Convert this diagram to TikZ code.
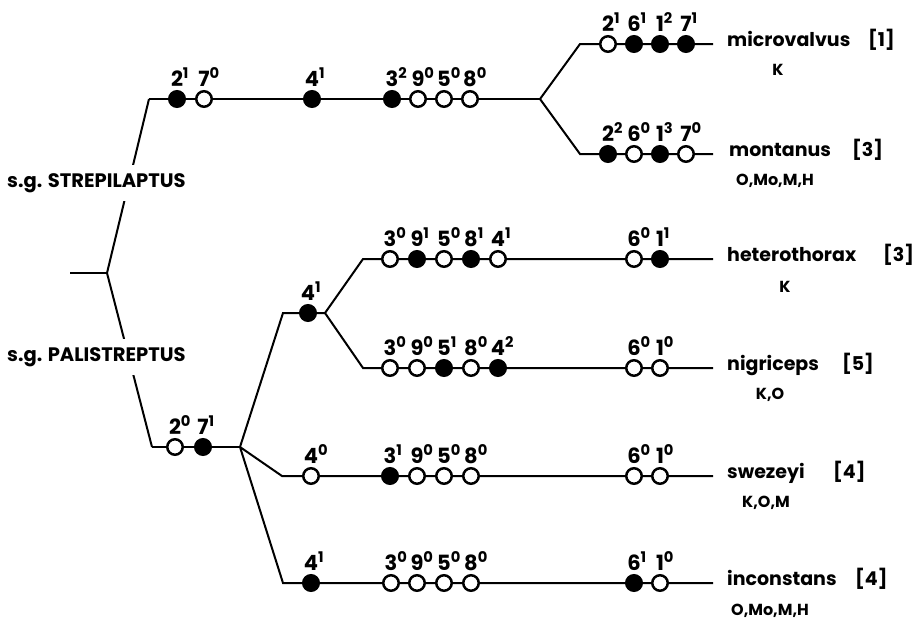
\documentclass[tikz,border=0pt]{standalone}
\usepackage{fontspec}
\setmainfont{Poppins}
\newcommand\dg[2]{#1\rlap{\textsuperscript{#2}}}
\begin{document}
\begin{tikzpicture}[x=1pt,y=-1pt,
  br/.style={line width=2pt},
  dot/.style={circle, draw, line width=2.5pt, minimum size=15.5pt, inner sep=0pt},
  on/.style={dot, fill=black},
  off/.style={dot, fill=white},
  lab/.style={font=\fontsize{21}{21}\selectfont\bfseries, inner sep=0pt},
  every label/.style={lab},
  label distance=3.5pt,
  sp/.style={font=\fontsize{19}{19}\selectfont\bfseries, inner sep=0pt, anchor=mid west},
  loc/.style={font=\fontsize{16}{16}\selectfont\bfseries, inner sep=0pt},
  sg/.style={font=\fontsize{19.5}{19.5}\selectfont\bfseries, fill=white, inner xsep=0pt, inner ysep=8pt, anchor=west}]
\useasboundingbox (0,0) rectangle (924,622);
% branch coordinates
\coordinate (root0) at (70,273);
\coordinate (root) at (107,273);
\coordinate (sA) at (149,99);
\coordinate (sAe) at (540,99);
\coordinate (a1) at (580,44);  \coordinate (a1e) at (713,44);
\coordinate (b1) at (580,154); \coordinate (b1e) at (713,154);
\coordinate (sB) at (152,447); \coordinate (jB) at (240,447);
\coordinate (c0) at (283,313); \coordinate (cj) at (325,313);
\coordinate (c1) at (363,259); \coordinate (c1e) at (713,259);
\coordinate (d1) at (363,368); \coordinate (d1e) at (713,368);
\coordinate (e1) at (282,476); \coordinate (e1e) at (713,476);
\coordinate (f1) at (283,583); \coordinate (f1e) at (713,583);
% branches
\draw[br] (root0) -- (root);
\draw[br] (sA) -- (root) -- (sB);
\draw[br] (sA) -- (sAe);
\draw[br] (a1e) -- (a1) -- (sAe) -- (b1) -- (b1e);
\draw[br] (sB) -- (jB);
\draw[br] (jB) -- (c0) -- (cj);
\draw[br] (c1e) -- (c1) -- (cj) -- (d1) -- (d1e);
\draw[br] (jB) -- (e1) -- (e1e);
\draw[br] (jB) -- (f1) -- (f1e);
% subgenus labels
\node[sg] (sgS) at (7,183) {s.g. STREPILAPTUS};
\node[sg] (sgP) at (7,357) {s.g. PALISTREPTUS};
% STREPILAPTUS stem
\node[on,  label=above:{\dg{2}{1}}] (t1) at (177,99) {};
\node[off, label=above:{\dg{7}{0}}] (t2) at (204,99) {};
\node[on,  label=above:{\dg{4}{1}}] (t3) at (312,99) {};
\node[on,  label=above:{\dg{3}{2}}] (t4) at (392,99) {};
\node[off, label=above:{\dg{9}{0}}] (t5) at (418,99) {};
\node[off, label=above:{\dg{5}{0}}] (t6) at (444,99) {};
\node[off, label=above:{\dg{8}{0}}] (t7) at (470,99) {};
% microvalvus
\node[off, label=above:{\dg{2}{1}}] (a2) at (608,44) {};
\node[on,  label=above:{\dg{6}{1}}] (a6) at (634,44) {};
\node[on,  label=above:{\dg{1}{2}}] (a1c) at (660,44) {};
\node[on,  label=above:{\dg{7}{1}}] (a7) at (686,44) {};
% montanus
\node[on,  label=above:{\dg{2}{2}}] (b2) at (608,154) {};
\node[off, label=above:{\dg{6}{0}}] (b6) at (634,154) {};
\node[on,  label=above:{\dg{1}{3}}] (b1c) at (660,154) {};
\node[off, label=above:{\dg{7}{0}}] (b7) at (686,154) {};
% PALISTREPTUS stem
\node[off, label=above:{\dg{2}{0}}] (p2) at (175,447) {};
\node[on,  label=above:{\dg{7}{1}}] (p7) at (203,447) {};
\node[on,  label=above:{\dg{4}{1}}] (c4) at (308,313) {};
% heterothorax
\node[off, label=above:{\dg{3}{0}}] (c3) at (390,259) {};
\node[on,  label=above:{\dg{9}{1}}] (c9) at (417,259) {};
\node[off, label=above:{\dg{5}{0}}] (c5) at (444,259) {};
\node[on,  label=above:{\dg{8}{1}}] (c8) at (471,259) {};
\node[off, label=above:{\dg{4}{1}}] (c4b) at (498,259) {};
\node[off, label=above:{\dg{6}{0}}] (c6) at (634,259) {};
\node[on,  label=above:{\dg{1}{1}}] (c1c) at (660,259) {};
% nigriceps
\node[off, label=above:{\dg{3}{0}}] (d3) at (390,368) {};
\node[off, label=above:{\dg{9}{0}}] (d9) at (417,368) {};
\node[on,  label=above:{\dg{5}{1}}] (d5) at (444,368) {};
\node[off, label=above:{\dg{8}{0}}] (d8) at (471,368) {};
\node[on,  label=above:{\dg{4}{2}}] (d4) at (498,368) {};
\node[off, label=above:{\dg{6}{0}}] (d6) at (634,368) {};
\node[off, label=above:{\dg{1}{0}}] (d1c) at (660,368) {};
% swezeyi
\node[off, label=above:{\dg{4}{0}}] (e4) at (311,476) {};
\node[on,  label=above:{\dg{3}{1}}] (e3) at (390,476) {};
\node[off, label=above:{\dg{9}{0}}] (e9) at (417,476) {};
\node[off, label=above:{\dg{5}{0}}] (e5) at (444,476) {};
\node[off, label=above:{\dg{8}{0}}] (e8) at (471,476) {};
\node[off, label=above:{\dg{6}{0}}] (e6) at (634,476) {};
\node[off, label=above:{\dg{1}{0}}] (e1c) at (660,476) {};
% inconstans
\node[on,  label=above:{\dg{4}{1}}] (f4) at (311,583) {};
\node[off, label=above:{\dg{3}{0}}] (f3) at (391,583) {};
\node[off, label=above:{\dg{9}{0}}] (f9) at (417,583) {};
\node[off, label=above:{\dg{5}{0}}] (f5) at (444,583) {};
\node[off, label=above:{\dg{8}{0}}] (f8) at (471,583) {};
\node[on,  label=above:{\dg{6}{1}}] (f6) at (634,583) {};
\node[off, label=above:{\dg{1}{0}}] (f1c) at (660,583) {};
% species names
\node[sp] (nA) at (727,44) {microvalvus};   \node[sp] (kA) at (868,44) {[1]};
\node[loc] (lA) at (778,70) {K};
\node[sp] (nB) at (729,154) {montanus};     \node[sp] (kB) at (852,154) {[3]};
\node[loc] (lB) at (775,181) {O,Mo,M,H};
\node[sp] (nC) at (727,259) {heterothorax}; \node[sp] (kC) at (883,259) {[3]};
\node[loc] (lC) at (785,287) {K};
\node[sp] (nD) at (727,368) {nigriceps};    \node[sp] (kD) at (842,368) {[5]};
\node[loc] (lD) at (770,395) {K,O};
\node[sp] (nE) at (727,476) {swezeyi};      \node[sp] (kE) at (833,476) {[4]};
\node[loc] (lE) at (766,503) {K,O,M};
\node[sp] (nF) at (727,583) {inconstans};   \node[sp] (kF) at (855,583) {[4]};
\node[loc] (lF) at (770,611) {O,Mo,M,H};
\end{tikzpicture}
\end{document}
